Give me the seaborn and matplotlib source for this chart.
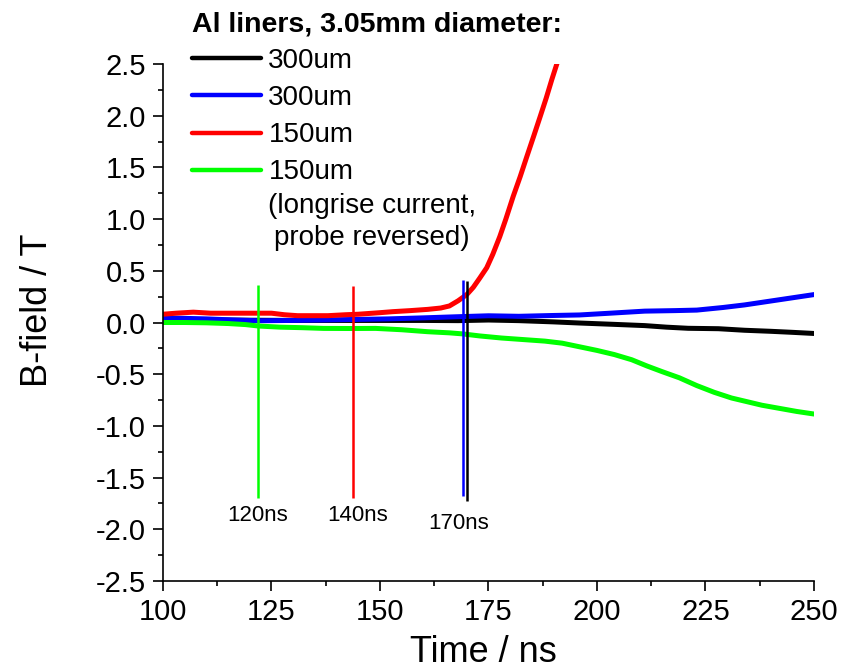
import numpy as np
import pandas as pd
import matplotlib
matplotlib.use("Agg")
import matplotlib.pyplot as plt
import seaborn as sns
from matplotlib.ticker import MultipleLocator

# ---------------- data ----------------
t_black = [100, 110, 120, 130, 140, 150, 160, 168, 175, 182, 190, 196, 204,
           211, 216, 221, 228, 234, 240, 245, 250]
b_black = [0.03, 0.025, 0.022, 0.02, 0.02, 0.02, 0.02, 0.018, 0.024, 0.018,
           0.006, -0.005, -0.018, -0.03, -0.045, -0.056, -0.06, -0.075,
           -0.085, -0.095, -0.106]

t_blue = [100, 105, 110, 116, 122, 130, 138, 145, 152, 160, 168, 175, 182,
          190, 196, 203, 211, 218, 223, 229, 234, 238, 242, 246, 250]
b_blue = [0.045, 0.04, 0.035, 0.025, 0.017, 0.02, 0.025, 0.03, 0.035, 0.045,
          0.056, 0.065, 0.06, 0.068, 0.073, 0.09, 0.11, 0.115, 0.12, 0.145,
          0.17, 0.195, 0.22, 0.245, 0.27]

t_red = [100, 103, 107, 111, 115, 120, 125, 128, 131, 135, 138, 142, 145,
         150, 153, 157, 161, 164, 166, 168, 170, 171.5, 173, 174.6, 176,
         177.6, 179, 180.7, 182.3, 183.8, 185.4, 186.9, 188.3, 189.6, 190.9]
b_red = [0.08, 0.09, 0.10, 0.09, 0.09, 0.09, 0.09, 0.075, 0.066, 0.066,
         0.066, 0.075, 0.08, 0.095, 0.105, 0.115, 0.127, 0.14, 0.16, 0.21,
         0.27, 0.34, 0.43, 0.53, 0.66, 0.83, 1.00, 1.22, 1.41, 1.60, 1.80,
         1.99, 2.17, 2.35, 2.52]

t_green = [100, 105, 110, 115, 119, 122, 127, 132, 137, 143, 149, 155, 161,
           166, 169, 173, 178, 183, 188, 192, 196, 200, 204, 208, 211.5, 215,
           219, 223, 227, 231, 234.5, 238, 242, 246, 250]
b_green = [0.0, 0.0, -0.003, -0.01, -0.02, -0.034, -0.045, -0.05, -0.057,
           -0.058, -0.057, -0.07, -0.089, -0.10, -0.11, -0.13, -0.15, -0.165,
           -0.18, -0.2, -0.235, -0.27, -0.31, -0.36, -0.42, -0.475, -0.535,
           -0.61, -0.675, -0.73, -0.765, -0.80, -0.83, -0.86, -0.885]

series_labels = ["300um", "300um", "150um", "150um"]
series_colors = ["#000000", "#0000FF", "#FF0000", "#00FF00"]

marker_times = [122.0, 143.9, 169.2, 170.0]
marker_tops = [0.36, 0.355, 0.41, 0.40]
marker_bottoms = [-1.70, -1.70, -1.68, -1.73]
marker_colors = ["#00FF00", "#FF0000", "#0000FF", "#000000"]

marker_labels = ["120ns", "140ns", "170ns"]
marker_label_x = [121.9, 144.9, 168.2]
marker_label_y = [-1.87, -1.87, -1.94]

x_ticks = [100, 125, 150, 175, 200, 225, 250]
y_ticks = [-2.5, -2.0, -1.5, -1.0, -0.5, 0.0, 0.5, 1.0, 1.5, 2.0, 2.5]

# ---------------- plotting ----------------
sns.set_theme(style="ticks")
plt.rcParams['font.family'] = ['Liberation Sans', 'DejaVu Sans']
plt.rcParams['axes.linewidth'] = 1.2
plt.rcParams['text.color'] = 'black'
plt.rcParams['axes.labelcolor'] = 'black'
plt.rcParams['xtick.color'] = 'black'
plt.rcParams['ytick.color'] = 'black'
plt.rcParams['axes.edgecolor'] = 'black'

fig = plt.figure(figsize=(8.51, 6.70), dpi=100)
ax = fig.add_axes([0.1915, 0.1328, 0.765, 0.7717])

frames = [
    pd.DataFrame({"t": t_black, "B": b_black}),
    pd.DataFrame({"t": t_blue, "B": b_blue}),
    pd.DataFrame({"t": t_red, "B": b_red}),
    pd.DataFrame({"t": t_green, "B": b_green}),
]
handles = [None] * 4
for idx in [0, 1, 3, 2]:
    sns.lineplot(data=frames[idx], x="t", y="B", color=series_colors[idx],
                 linewidth=3.6, ax=ax, legend=False, errorbar=None,
                 sort=False)
    line = ax.lines[-1]
    line.set_solid_capstyle("round")
    line.set_solid_joinstyle("round")
    handles[idx] = line

ax.vlines(marker_times, marker_bottoms, marker_tops, colors=marker_colors,
          linewidth=1.8, zorder=5)
for lab, lx, ly in zip(marker_labels, marker_label_x, marker_label_y):
    ax.text(lx, ly, lab, ha="center", va="center", fontsize=16,
            color="black")

ax.set_xlim(100, 250)
ax.set_ylim(-2.5, 2.5)
ax.set_xticks(x_ticks)
ax.set_yticks(y_ticks)
ax.set_yticklabels([f"{v:.1f}" for v in y_ticks])
ax.xaxis.set_minor_locator(MultipleLocator(12.5))
ax.yaxis.set_minor_locator(MultipleLocator(0.25))
ax.tick_params(which="major", length=7.2, width=1.2, direction="out",
               labelsize=21, pad=5, colors="black")
ax.tick_params(which="minor", length=3.6, width=1.2, direction="out")
sns.despine(ax=ax)

ax.set_xlabel("Time / ns", fontsize=26)
ax.set_ylabel("B-field / T", fontsize=26)
ax.xaxis.set_label_coords(0.492, -0.104)
ax.yaxis.set_label_coords(-0.166, 0.524)

leg_handles = [handles[i] for i in range(4)]
leg = ax.legend(leg_handles, series_labels, loc="upper left",
                bbox_to_anchor=(192 / 851, 1 - 11 / 670),
                bbox_transform=fig.transFigure, frameon=False,
                fontsize=20, title="Al liners, 3.05mm diameter:",
                title_fontproperties={"weight": "bold", "size": 20.5},
                alignment="left", handlelength=2.5, handletextpad=0.25,
                labelspacing=0.4, borderpad=0, borderaxespad=0)
for lh in leg.get_lines():
    lh.set_linewidth(3.2)

fig.text(372 / 851, 1 - 206 / 670, "(longrise current,", ha="center",
         va="center", fontsize=20)
fig.text(372 / 851, 1 - 238 / 670, "probe reversed)", ha="center",
         va="center", fontsize=20)

fig.savefig("out.png", dpi=100)
